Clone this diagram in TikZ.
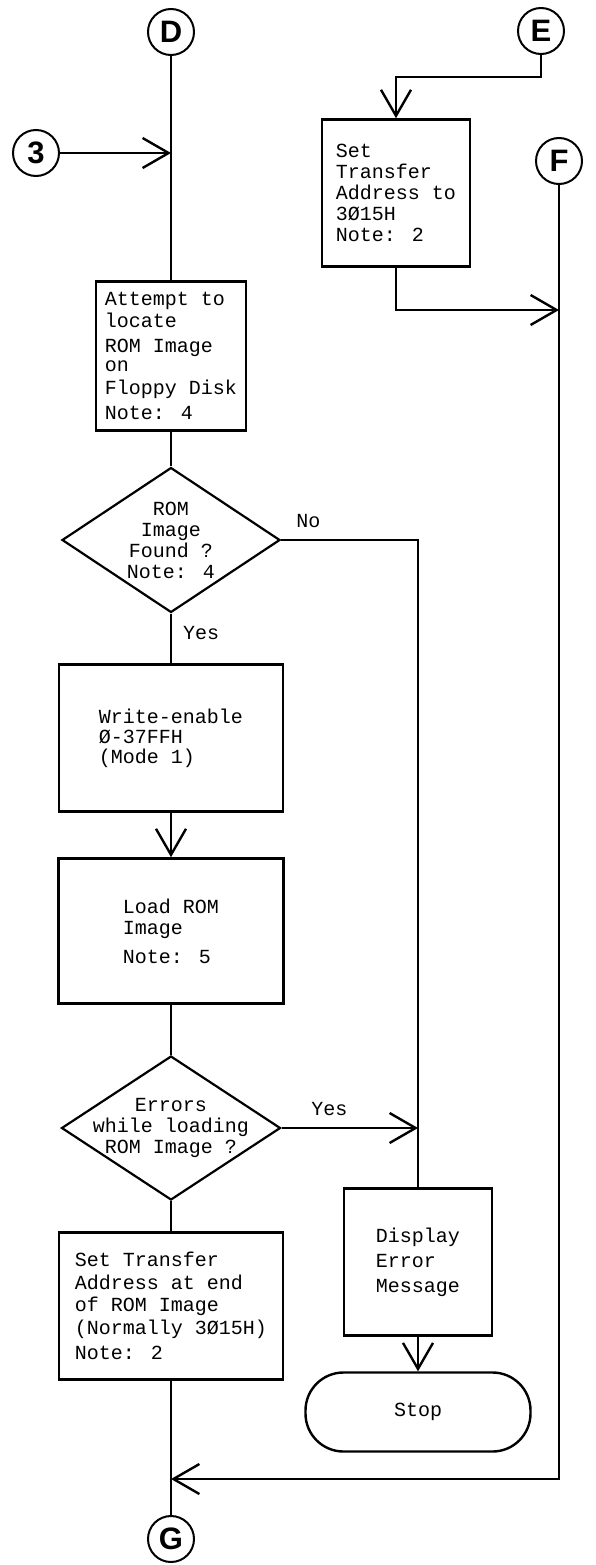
\documentclass[tikz,border=0pt]{standalone}
\usepackage{fontspec}
\usetikzlibrary{arrows.meta,shapes.geometric}
\newfontfamily\typefont{Liberation Mono}
\newfontfamily\tagfont{Liberation Sans}
\newcommand{\tfont}[1]{\typefont\fontsize{20}{#1}\selectfont\lineskiplimit=-50pt}

\begin{document}
\begin{tikzpicture}[x=1pt,y=-1pt,>={Straight Barb[length=26pt,width=30pt]},
    wire/.style={line width=2.4pt},
    flow/.style={wire,->},
    conn/.style={circle,draw,line width=2pt,minimum size=46pt,inner sep=0pt,
      font=\tagfont\bfseries\fontsize{31}{31}\selectfont},
    proc/.style={draw,line width=2.6pt,minimum height=147pt,align=left,
      inner sep=0pt,font=\tfont{22}},
    decision/.style={diamond,draw,line width=2.2pt,minimum width=219pt,
      minimum height=145pt,inner sep=0pt},
    dectext/.style={align=center,inner sep=0pt,font=\tfont{21}},
    stopbox/.style={draw,line width=2.4pt,rounded corners=38pt,
      minimum width=225pt,minimum height=79pt,font=\tfont{22}},
    lbl/.style={inner sep=2pt,font=\tfont{22}}]
  \useasboundingbox (0,0) rectangle (595,1565);

  % main column
  \node[conn] (D) at (171,32) {D};
  \node[conn] (three) at (36,153) {3};
  \node[proc,minimum width=150pt,minimum height=149pt] (locate) at (171,356)
    {Attempt to\\locate\\[3pt]ROM Image\\[-3pt]on\\[1pt]Floppy Disk\\[3pt]Note: 4};
  \node[decision,minimum width=218pt] (found) at (171,540) {};
  \node[dectext] (foundtxt) at (found) {ROM\\Image\\Found ?\\Note: 4};
  \node[proc,minimum width=224pt,font=\tfont{20}] (wenable) at (171,738)
    {Write-enable\\Ø-37FFH\\(Mode 1)};
  \node[proc,minimum width=225pt,minimum height=145pt,font=\tfont{21}] (load) at (171,931)
    {Load ROM\\Image\\[8pt]Note: 5};
  \node[decision,minimum height=144pt] (errors) at (171,1128) {};
  \node[dectext] (errorstxt) at (errors) {Errors\\while loading\\ROM Image ?};
  \node[proc,minimum width=224pt,font=\tfont{22.5}] (setend) at (171,1306)
    {Set Transfer\\Address at end\\of ROM Image\\(Normally 3Ø15H)\\[3pt]Note: 2};
  \node[conn] (G) at (171,1539) {G};

  % error branch
  \node[proc,minimum width=148pt,font=\tfont{25}] (display) at (418,1262)
    {Display\\Error\\Message};
  \node[stopbox] (stop) at (418,1412) {Stop};

  % entry E and exit F
  \node[conn] (E) at (541,31) {E};
  \node[proc,minimum width=148pt,font=\tfont{21}] (setto) at (396,193)
    {Set\\Transfer\\Address to\\3Ø15H\\Note: 2};
  \node[conn] (F) at (559,161) {F};

  % connectors
  \draw[wire] (D) -- (locate);
  \draw[flow] (three) -- (three -| D);
  \draw[wire] (locate) -- (found);
  \draw[wire] (found) -- node[lbl,right=9pt,pos=0.4]{Yes} (wenable);
  \draw[wire] (found.east) -| node[lbl,above=9pt,pos=0.1]{No} (display.north);
  \draw[flow] (wenable) -- (load);
  \draw[wire] (load) -- (errors);
  \draw[flow] (errors.east) -- node[lbl,above=9pt,pos=0.35]{Yes} (errors.east -| display);
  \draw[wire] (errors) -- (setend);
  \draw[wire] (setend) -- (G);
  \draw[flow] (display) -- (stop);
  \draw[flow] (E.south) -- ++(0,22) -| (setto.north);
  \draw[flow] (setto.south) |- (F.south |- 0,310);
  \draw[flow] (F.south) |- (G.north |- 0,1479);
\end{tikzpicture}
\end{document}
